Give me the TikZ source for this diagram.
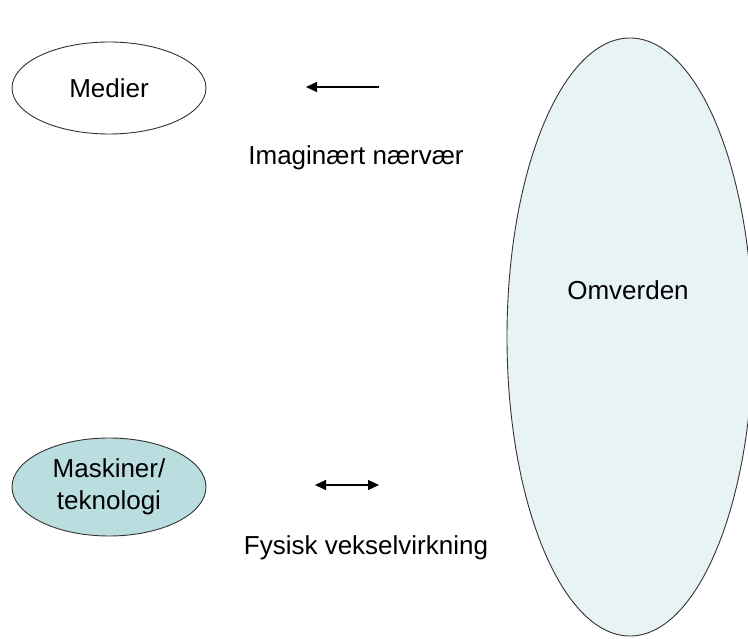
\documentclass[tikz,border=0pt]{standalone}
\usepackage{fontspec}
\setmainfont{Liberation Sans}
\usetikzlibrary{shapes.geometric,arrows.meta}
\definecolor{worldfill}{RGB}{232,243,245}
\definecolor{machfill}{RGB}{186,221,224}
\tikzset{
  blob/.style={ellipse, draw=black!80, line width=0.9pt, inner sep=0pt, align=center,
               font=\fontsize{26}{32}\selectfont},
  lbl/.style={font=\fontsize{26}{32}\selectfont, inner sep=0pt},
  link/.style={line width=1.2pt, -{Triangle[length=11pt,width=10pt]}},
  twoway/.style={line width=1.2pt, {Triangle[length=11pt,width=10pt]}-{Triangle[length=11pt,width=10pt]}}
}
\begin{document}
\begin{tikzpicture}[x=1pt,y=-1pt]
  \useasboundingbox (0,0) rectangle (748,639);
  \fill[white] (0,0) rectangle (748,639);

  % the surrounding world
  \node[blob, fill=worldfill, minimum width=246pt, minimum height=598pt] (world) at (630,337) {};
  \node[lbl] (worldtxt) at (628,290) {Omverden};

  % media and machines
  \node[blob, fill=white, minimum width=194pt, minimum height=92pt] (media) at (109,88) {Medier};
  \node[blob, fill=machfill, minimum width=194pt, minimum height=98pt] (mach) at (109,487) {Maskiner/\\teknologi};

  % relations
  \coordinate (a1s) at (379,87);
  \coordinate (a1e) at (306,87);
  \draw[link] (a1s) -- (a1e);
  \node[lbl] (imag) at (356,158) {Imaginært nærvær};

  \coordinate (a2s) at (315,485);
  \coordinate (a2e) at (379,485);
  \draw[twoway] (a2s) -- (a2e);
  \node[lbl] (phys) at (366,548) {Fysisk vekselvirkning};
\end{tikzpicture}
\end{document}
